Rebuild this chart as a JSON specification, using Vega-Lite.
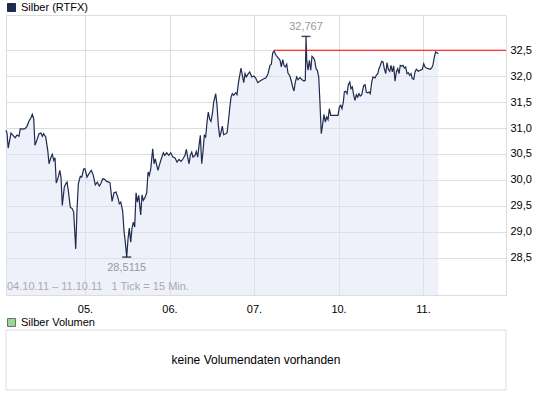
{
  "$schema": "https://vega.github.io/schema/vega-lite/v6.json",
  "background": "white",
  "padding": {"left": 3, "top": 1, "right": 0, "bottom": 0},
  "spacing": 2,
  "config": {
    "font": "Liberation Sans",
    "view": {"stroke": "#dddddd", "strokeWidth": 1},
    "axis": {"labelFont": "Liberation Sans", "labelFontSize": 11, "labelColor": "#000000", "domain": false, "ticks": false, "gridColor": "#dddddd", "gridWidth": 1, "gridOpacity": 1, "title": null, "labelOverlap": false, "labelFlush": false},
    "legend": {"orient": "top", "title": null, "labelFont": "Liberation Sans", "labelFontSize": 11, "labelColor": "#000000", "symbolType": "square", "symbolSize": 64, "symbolStrokeColor": "#333333", "symbolStrokeWidth": 1, "offset": 1, "padding": 0, "labelOffset": 4}
  },
  "datasets": {
    "price": [
      {"t":0.065,"v":30.956},{"t":0.077,"v":30.903},{"t":0.091,"v":30.614},{"t":0.124,"v":30.903},{"t":0.148,"v":30.859},{"t":0.172,"v":30.813},{"t":0.195,"v":30.865},{"t":0.219,"v":30.840},{"t":0.234,"v":30.987},{"t":0.258,"v":30.981},{"t":0.290,"v":30.987},{"t":0.314,"v":31.033},{"t":0.337,"v":31.135},{"t":0.361,"v":31.199},{"t":0.376,"v":31.264},{"t":0.393,"v":31.180},{"t":0.408,"v":30.666},{"t":0.432,"v":30.774},{"t":0.456,"v":30.890},{"t":0.479,"v":30.903},{"t":0.495,"v":30.840},{"t":0.511,"v":30.890},{"t":0.535,"v":30.826},{"t":0.559,"v":30.570},{"t":0.574,"v":30.311},{"t":0.598,"v":30.440},{"t":0.613,"v":30.492},{"t":0.630,"v":30.376},{"t":0.645,"v":30.427},{"t":0.660,"v":29.938},{"t":0.684,"v":30.054},{"t":0.701,"v":30.183},{"t":0.716,"v":30.054},{"t":0.731,"v":29.508},{"t":0.755,"v":29.861},{"t":0.772,"v":29.925},{"t":0.787,"v":29.958},{"t":0.802,"v":29.797},{"t":0.826,"v":29.475},{"t":0.850,"v":29.442},{"t":0.866,"v":29.378},{"t":0.890,"v":28.670},{"t":0.905,"v":29.411},{"t":0.921,"v":29.925},{"t":0.944,"v":30.068},{"t":0.961,"v":30.054},{"t":0.985,"v":30.214},{"t":1.000,"v":30.214},{"t":1.024,"v":30.054},
      {"t":1.059,"v":30.151},{"t":1.075,"v":30.183},{"t":1.098,"v":30.087},{"t":1.122,"v":29.905},{"t":1.146,"v":29.958},{"t":1.169,"v":29.880},{"t":1.186,"v":29.925},{"t":1.210,"v":30.021},{"t":1.233,"v":30.010},{"t":1.257,"v":29.971},{"t":1.281,"v":29.958},{"t":1.296,"v":29.944},{"t":1.320,"v":29.585},{"t":1.343,"v":29.751},{"t":1.367,"v":29.764},{"t":1.391,"v":29.649},{"t":1.406,"v":29.539},{"t":1.423,"v":29.571},{"t":1.446,"v":29.392},{"t":1.462,"v":29.006},{"t":1.477,"v":28.799},{"t":1.4935,"v":28.5115},{"t":1.509,"v":28.863},{"t":1.524,"v":29.070},{"t":1.541,"v":28.799},{"t":1.556,"v":29.070},{"t":1.572,"v":29.185},{"t":1.588,"v":29.089},{"t":1.604,"v":29.751},{"t":1.619,"v":29.571},{"t":1.636,"v":29.701},{"t":1.659,"v":29.326},{"t":1.675,"v":29.712},{"t":1.690,"v":29.604},{"t":1.707,"v":29.649},{"t":1.730,"v":29.751},{"t":1.746,"v":30.151},{"t":1.761,"v":30.087},{"t":1.778,"v":30.214},{"t":1.801,"v":30.600},{"t":1.817,"v":30.311},{"t":1.832,"v":30.407},{"t":1.849,"v":30.280},{"t":1.864,"v":30.183},{"t":1.879,"v":30.280},{"t":1.903,"v":30.407},{"t":1.927,"v":30.523},{"t":1.943,"v":30.473},{"t":1.967,"v":30.523},{"t":1.991,"v":30.473},{"t":2.014,"v":30.523},{"t":2.041,"v":30.440},{"t":2.065,"v":30.421},{"t":2.089,"v":30.344},
      {"t":2.112,"v":30.396},{"t":2.136,"v":30.357},{"t":2.160,"v":30.407},{"t":2.183,"v":30.473},{"t":2.199,"v":30.589},{"t":2.215,"v":30.440},{"t":2.231,"v":30.311},{"t":2.246,"v":30.473},{"t":2.263,"v":30.537},{"t":2.278,"v":30.440},{"t":2.302,"v":30.473},{"t":2.317,"v":30.550},{"t":2.334,"v":30.440},{"t":2.349,"v":30.666},{"t":2.365,"v":30.859},{"t":2.381,"v":30.311},{"t":2.396,"v":30.537},{"t":2.412,"v":30.859},{"t":2.428,"v":30.826},{"t":2.444,"v":31.116},{"t":2.459,"v":31.309},{"t":2.476,"v":31.168},{"t":2.491,"v":31.129},{"t":2.507,"v":31.276},{"t":2.523,"v":31.502},{"t":2.547,"v":31.662},{"t":2.562,"v":31.438},{"t":2.578,"v":31.052},{"t":2.594,"v":30.826},{"t":2.610,"v":30.923},{"t":2.625,"v":31.039},{"t":2.641,"v":30.871},{"t":2.665,"v":30.890},{"t":2.681,"v":30.909},{"t":2.696,"v":31.116},{"t":2.712,"v":31.373},{"t":2.728,"v":31.598},{"t":2.743,"v":31.662},{"t":2.760,"v":31.631},{"t":2.783,"v":31.681},{"t":2.799,"v":31.643},{"t":2.814,"v":31.855},{"t":2.831,"v":32.017},{"t":2.846,"v":32.158},{"t":2.862,"v":32.017},{"t":2.878,"v":31.875},{"t":2.894,"v":32.048},{"t":2.909,"v":31.985},{"t":2.925,"v":32.029},{"t":2.949,"v":32.081},{"t":2.973,"v":31.985},{"t":2.996,"v":32.004},{"t":3.020,"v":31.965},{"t":3.044,"v":31.875},
      {"t":3.071,"v":31.907},{"t":3.095,"v":31.932},{"t":3.118,"v":31.952},{"t":3.142,"v":31.971},{"t":3.166,"v":32.048},{"t":3.189,"v":32.210},{"t":3.205,"v":32.230},{"t":3.221,"v":32.448},{"t":3.237,"v":32.487},{"t":3.260,"v":32.403},{"t":3.284,"v":32.357},{"t":3.308,"v":32.307},{"t":3.323,"v":32.178},{"t":3.340,"v":32.319},{"t":3.355,"v":32.210},{"t":3.370,"v":32.178},{"t":3.387,"v":32.230},{"t":3.402,"v":32.062},{"t":3.426,"v":31.998},{"t":3.441,"v":31.907},{"t":3.458,"v":31.792},{"t":3.473,"v":31.714},{"t":3.489,"v":31.888},{"t":3.505,"v":31.985},{"t":3.521,"v":31.932},{"t":3.544,"v":31.971},{"t":3.568,"v":31.932},{"t":3.592,"v":31.907},{"t":3.607,"v":31.921},{"t":3.6154,"v":32.767},{"t":3.624,"v":32.307},{"t":3.639,"v":32.114},{"t":3.655,"v":32.307},{"t":3.671,"v":32.114},{"t":3.686,"v":32.384},{"t":3.702,"v":32.357},{"t":3.718,"v":32.307},{"t":3.734,"v":32.145},{"t":3.749,"v":32.114},{"t":3.766,"v":31.985},{"t":3.781,"v":31.469},{"t":3.796,"v":30.890},{"t":3.813,"v":31.083},{"t":3.828,"v":31.264},{"t":3.844,"v":31.116},{"t":3.860,"v":31.212},{"t":3.876,"v":31.160},{"t":3.891,"v":31.373},{"t":3.908,"v":31.245},{"t":3.923,"v":31.245},{"t":3.955,"v":31.245},{"t":3.994,"v":31.245},{"t":4.010,"v":31.405},{"t":4.026,"v":31.438},{"t":4.041,"v":31.373},{"t":4.057,"v":31.502},
      {"t":4.069,"v":31.695},{"t":4.085,"v":31.709},{"t":4.101,"v":31.662},{"t":4.116,"v":31.836},{"t":4.133,"v":31.888},{"t":4.148,"v":31.759},{"t":4.163,"v":31.792},{"t":4.180,"v":31.631},{"t":4.195,"v":31.535},{"t":4.211,"v":31.643},{"t":4.227,"v":31.598},{"t":4.243,"v":31.662},{"t":4.258,"v":31.618},{"t":4.275,"v":31.643},{"t":4.298,"v":31.824},{"t":4.314,"v":31.836},{"t":4.329,"v":31.695},{"t":4.346,"v":31.681},{"t":4.361,"v":31.695},{"t":4.376,"v":31.662},{"t":4.393,"v":31.888},{"t":4.408,"v":31.985},{"t":4.432,"v":31.965},{"t":4.447,"v":32.017},{"t":4.464,"v":32.048},{"t":4.479,"v":32.145},{"t":4.495,"v":32.210},{"t":4.511,"v":32.288},{"t":4.527,"v":32.274},{"t":4.542,"v":32.145},{"t":4.559,"v":32.048},{"t":4.574,"v":32.261},{"t":4.589,"v":32.133},{"t":4.606,"v":32.095},{"t":4.621,"v":32.210},{"t":4.637,"v":32.081},{"t":4.653,"v":32.197},{"t":4.669,"v":31.902},{"t":4.684,"v":32.081},{"t":4.701,"v":32.145},{"t":4.716,"v":32.048},{"t":4.731,"v":32.210},{"t":4.748,"v":32.197},{"t":4.763,"v":32.210},{"t":4.779,"v":32.158},{"t":4.795,"v":32.178},{"t":4.811,"v":32.048},{"t":4.826,"v":32.068},{"t":4.843,"v":32.017},{"t":4.858,"v":32.048},{"t":4.873,"v":31.952},{"t":4.890,"v":31.940},{"t":4.905,"v":32.081},{"t":4.921,"v":32.133},{"t":4.944,"v":32.095},{"t":4.968,"v":32.114},{"t":4.992,"v":32.133},{"t":5.008,"v":32.241},{"t":5.024,"v":32.178},{"t":5.039,"v":32.158},{"t":5.063,"v":32.145},{"t":5.086,"v":32.133},{"t":5.103,"v":32.158},{"t":5.118,"v":32.222},{"t":5.134,"v":32.371},{"t":5.150,"v":32.467},{"t":5.166,"v":32.454},{"t":5.181,"v":32.434}
    ],
    "extremes": [
      {"t": 1.4935, "v": 28.5115, "label": "28,5115", "kind": "min"},
      {"t": 3.6154, "v": 32.767, "label": "32,767", "kind": "max"}
    ],
    "level": [{"t0": 3.237, "t1": 5.982, "v": 32.5}],
    "info": [{"t": 0.065, "v": 27.78, "txt": "04.10.11 – 11.10.11\u00a0\u00a0\u00a01 Tick = 15 Min."}],
    "novol": [{"msg": "keine Volumendaten vorhanden"}]
  },
  "resolve": {"scale": {"color": "independent"}, "legend": {"color": "independent"}},
  "vconcat": [
    {
      "width": 500,
      "height": 280,
      "encoding": {
        "x": {"field": "t", "type": "quantitative", "scale": {"domain": [0.065, 5.982], "nice": false, "zero": false},
          "axis": {"values": [1, 2, 3, 4, 5], "labelExpr": "datum.value == 1 ? '05.' : datum.value == 2 ? '06.' : datum.value == 3 ? '07.' : datum.value == 4 ? '10.' : '11.'", "labelPadding": 8, "labelBaseline": "top", "labelAlign": "center", "grid": true}},
        "y": {"field": "v", "type": "quantitative", "scale": {"domain": [27.78, 33.18], "nice": false, "zero": false},
          "axis": {"orient": "right", "values": [28.5, 29, 29.5, 30, 30.5, 31, 31.5, 32, 32.5], "labelExpr": "replace(format(datum.value, '.1f'), '.', ',')", "labelPadding": 4, "labelBaseline": "middle", "grid": true}}
      },
      "layer": [
        {"data": {"name": "price"}, "mark": {"type": "area", "color": "#dde3f5", "opacity": 0.5, "clip": true},
          "encoding": {"y2": {"datum": 27.78}}},
        {"data": {"name": "price"}, "mark": {"type": "line", "strokeWidth": 1.2, "interpolate": "linear"},
          "encoding": {"color": {"datum": "Silber (RTFX)", "type": "nominal", "scale": {"range": ["#1f2a4e"]},
            "legend": {"encode": {"symbols": {"update": {"fill": {"value": "#1f2a4e"}, "stroke": {"value": "#333333"}, "strokeWidth": {"value": 1}}}}}}}},
        {"data": {"name": "level"}, "mark": {"type": "rule", "color": "#ff0000", "strokeWidth": 1},
          "encoding": {"x": {"field": "t0", "type": "quantitative"}, "x2": {"field": "t1"}, "y": {"field": "v", "type": "quantitative"}}},
        {"data": {"name": "extremes"}, "mark": {"type": "tick", "orient": "horizontal", "color": "#000000", "size": 9, "thickness": 1.5}},
        {"data": {"name": "extremes"}, "transform": [{"filter": "datum.kind == 'max'"}], "mark": {"type": "text", "color": "#999999", "fontSize": 11, "dy": -4, "baseline": "bottom"},
          "encoding": {"text": {"field": "label"}}},
        {"data": {"name": "extremes"}, "transform": [{"filter": "datum.kind == 'min'"}], "mark": {"type": "text", "color": "#999999", "fontSize": 11, "dy": 5, "baseline": "top"},
          "encoding": {"text": {"field": "label"}}},
        {"data": {"name": "info"}, "mark": {"type": "text", "color": "#aaaaaa", "fontSize": 11, "align": "left", "baseline": "bottom", "dx": 1, "dy": -3},
          "encoding": {"text": {"field": "txt", "type": "nominal"}}}
      ]
    },
    {
      "width": 500,
      "height": 60,
      "data": {"name": "novol"},
      "layer": [
        {"mark": {"type": "rect", "fill": null, "fillOpacity": 0, "stroke": "#dddddd", "strokeWidth": 1}, "encoding": {}},
        {"mark": {"type": "text", "color": "#000000", "fontSize": 12, "baseline": "middle", "align": "center"},
          "encoding": {"text": {"field": "msg"}}},
        {"mark": {"type": "point", "filled": true, "size": 0, "shape": "square"},
          "encoding": {"color": {"datum": "Silber Volumen", "type": "nominal", "scale": {"range": ["#66cc66"]},
            "legend": {"encode": {"symbols": {"update": {"fill": {"value": "#66cc66"}, "stroke": {"value": "#333333"}, "strokeWidth": {"value": 1}}}}}}}}
      ]
    }
  ]
}
